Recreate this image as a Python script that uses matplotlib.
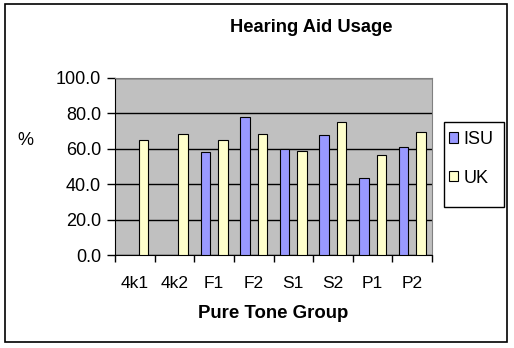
import numpy as np
import matplotlib
matplotlib.use("Agg")
from matplotlib import pyplot as plt
from matplotlib import patches

plt.rcParams['font.family'] = ['Liberation Sans', 'DejaVu Sans']

groups = ["4k1", "4k2", "F1", "F2", "S1", "S2", "P1", "P2"]
isu = [np.nan, np.nan, 58.3, 78.1, 60.0, 67.9, 43.6, 60.9]
uk = [65.1, 68.5, 65.1, 68.5, 58.9, 75.3, 56.4, 69.6]

W, H = 514, 348
fig = plt.figure(figsize=(W / 100, H / 100), dpi=100)
ax = fig.add_axes([115 / W, 1 - 255 / H, (432 - 115) / W, (255 - 78) / H])
ax.set_facecolor("#c0c0c0")

x = np.arange(len(groups))
bw = 0.24
ax.bar(x - 0.22, isu, bw, color="#9999ff", edgecolor="black", linewidth=0.8, label="ISU", zorder=3)
ax.bar(x + 0.22, uk, bw, color="#ffffcc", edgecolor="black", linewidth=0.8, label="UK", zorder=3)

ax.set_xlim(-0.5, len(groups) - 0.5)
ax.set_ylim(0, 100)
ax.set_yticks([0, 20, 40, 60, 80, 100])
ax.set_yticklabels(["%.1f" % v for v in [0, 20, 40, 60, 80, 100]], fontsize=13)
ax.yaxis.grid(True, color="black", linewidth=1, zorder=1)
ax.set_axisbelow(True)

ax.set_xticks(x)
ax.set_xticklabels(groups, fontsize=12.5)
ax.set_xticks(np.arange(len(groups) + 1) - 0.5, minor=True)
ax.tick_params(axis="x", which="major", length=0, pad=15)
ax.tick_params(axis="x", which="minor", length=5, width=1, direction="out")
ax.tick_params(axis="y", length=6, width=1, direction="out", pad=4)

for s in ["top", "right"]:
    ax.spines[s].set_color("#808080")
for s in ["left", "bottom"]:
    ax.spines[s].set_color("black")

fig.text(311 / W, 1 - 28 / H, "Hearing Aid Usage", fontsize=13.2, fontweight="bold",
         ha="center", va="center")
fig.text(273 / W, 1 - 313 / H, "Pure Tone Group", fontsize=13.4, fontweight="bold",
         ha="center", va="center")
fig.text(25 / W, 1 - 140 / H, "%", fontsize=13, ha="center", va="center")

# legend entries without frame, box drawn separately (extra space at bottom)
leg = fig.legend(loc="upper left", bbox_to_anchor=(449 / W, 1 - 131 / H), fontsize=13,
                 frameon=False, handlelength=0.5, handleheight=0.5, handletextpad=0.3,
                 labelspacing=1.2, borderpad=0, borderaxespad=0)
for h in leg.legend_handles:
    h.set_linewidth(0.8)

fig.patches.append(patches.Rectangle((444 / W, 1 - 207 / H), 60 / W, 85 / H,
                                     transform=fig.transFigure, fill=False,
                                     edgecolor="black", linewidth=1))
fig.patches.append(patches.Rectangle((5 / W, 1 - 342 / H), 502 / W, 338 / H,
                                     transform=fig.transFigure, fill=False,
                                     edgecolor="black", linewidth=1.2))

fig.savefig("out.png", dpi=100)
